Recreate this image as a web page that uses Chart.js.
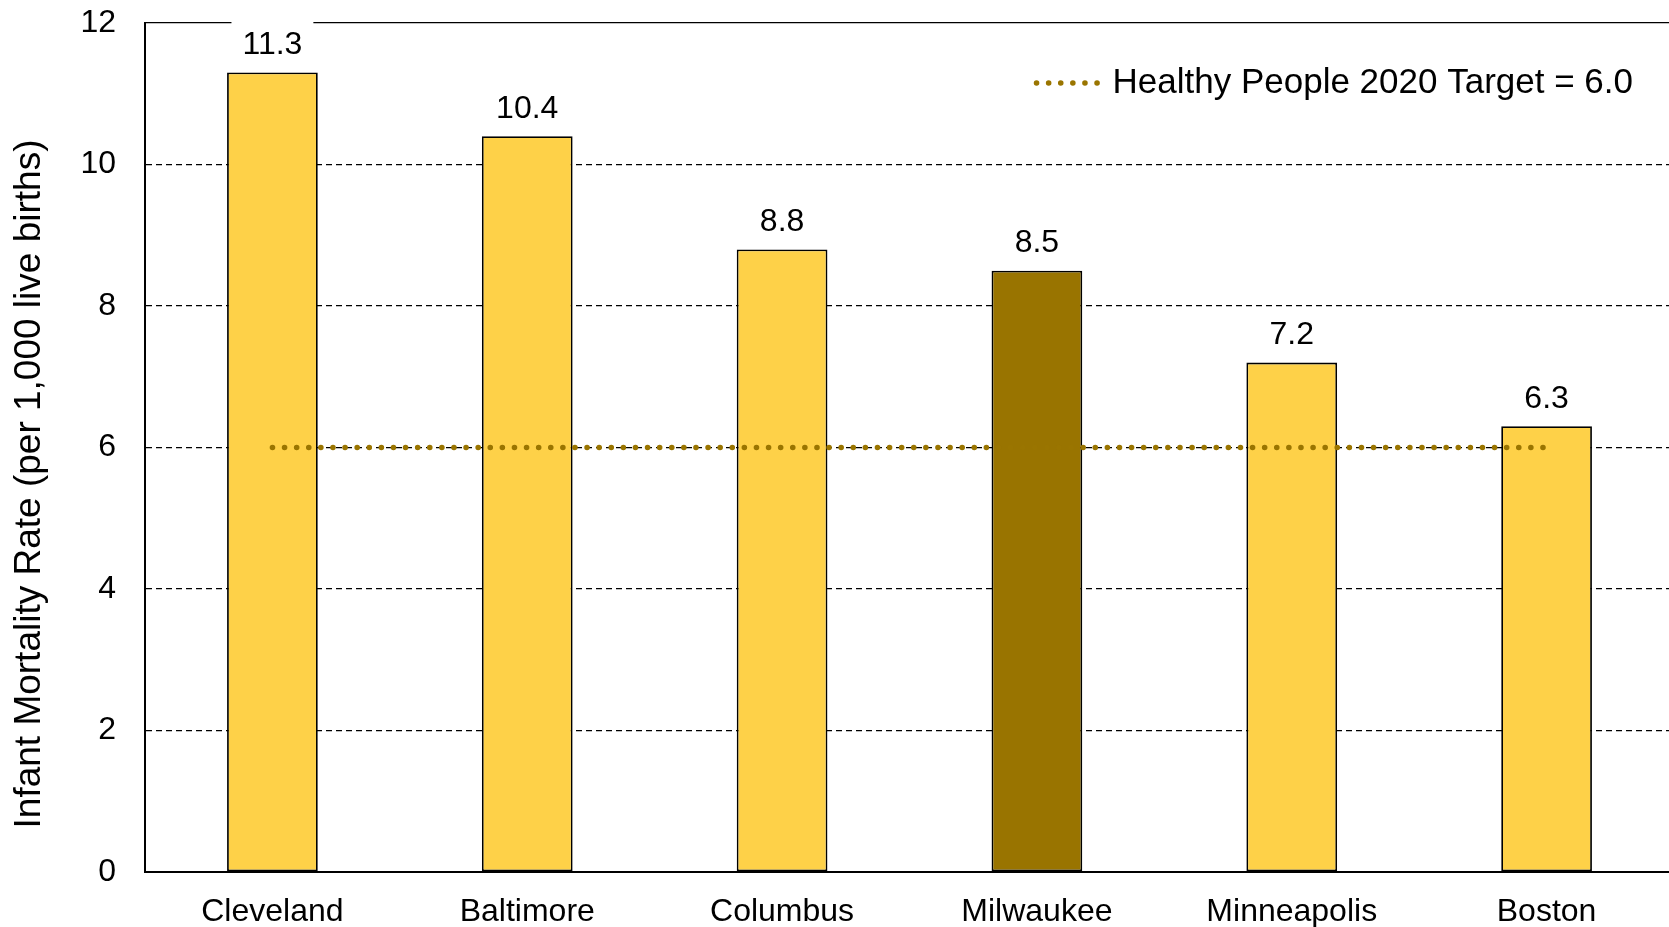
<!DOCTYPE html>
<html lang="en">
<head>
    <meta charset="UTF-8">
    <script src="https://cdn.jsdelivr.net/npm/chart.js"></script>
    <title>Infant Mortality Rate</title>
    <style>
        html, body { margin: 0; padding: 0; background: #fff; overflow: hidden; }
        #wrap { width: 1669px; height: 927px; overflow: hidden; }
    </style>
</head>
<body>
<div id="wrap">
    <!-- plot runs a few px past the right edge in the original, so the canvas is a bit wider -->
    <canvas id="imrChart" width="1674" height="927"></canvas>
</div>

<script>
    // data
    const cities = ['Cleveland', 'Baltimore', 'Columbus', 'Milwaukee', 'Minneapolis', 'Boston'];
    const rates = [11.3, 10.4, 8.8, 8.5, 7.2, 6.3];
    const target = [6.0, 6.0, 6.0, 6.0, 6.0, 6.0];
    const yTicks = [0, 2, 4, 6, 8, 10, 12];
    const targetLabel = 'Healthy People 2020 Target = 6.0';
    const yTitle = 'Infant Mortality Rate (per 1,000 live births)';

    const yellow = '#FED148';
    const brown = '#997400';
    const dotColor = '#9A7500';
    const fontFamily = "'Liberation Sans', Arial, sans-serif";

    // Milwaukee is highlighted
    const barColors = cities.map(c => c === 'Milwaukee' ? brown : yellow);

    const extras = {
        id: 'extras',
        afterDatasetsDraw(chart) {
            const ctx = chart.ctx;
            const meta = chart.getDatasetMeta(1);
            ctx.save();
            ctx.font = '32px ' + fontFamily;
            ctx.textAlign = 'center';
            ctx.textBaseline = 'middle';
            meta.data.forEach((bar, i) => {
                const txt = rates[i].toFixed(1);
                const w = ctx.measureText(txt).width + 22;
                const cy = bar.y - 27;
                // white box behind the label hides the grid line
                ctx.fillStyle = '#fff';
                ctx.fillRect(bar.x - w / 2, cy - 24, w, 44);
                ctx.fillStyle = '#000';
                ctx.fillText(txt, bar.x, cy);
            });
            ctx.restore();
        },
        afterDraw(chart) {
            const ctx = chart.ctx;
            const ds = chart.data.datasets[0];
            // legend
            ctx.save();
            ctx.font = '35px ' + fontFamily;
            ctx.textBaseline = 'middle';
            const tw = ctx.measureText(ds.label).width;
            const textLeft = 1633 - tw;
            const ly = 83;
            ctx.fillStyle = '#000';
            ctx.fillText(ds.label, textLeft, ly);
            ctx.strokeStyle = ds.borderColor;
            ctx.lineWidth = ds.borderWidth;
            ctx.lineCap = 'round';
            ctx.setLineDash(ds.borderDash);
            ctx.beginPath();
            ctx.moveTo(textLeft - 76, ly);
            ctx.lineTo(textLeft - 13, ly);
            ctx.stroke();
            ctx.restore();

            // y axis title
            ctx.save();
            ctx.font = '37px ' + fontFamily;
            ctx.fillStyle = '#000';
            ctx.textAlign = 'center';
            ctx.textBaseline = 'middle';
            ctx.translate(30, 484);
            ctx.rotate(-Math.PI / 2);
            ctx.fillText(yTitle, 0, 0);
            ctx.restore();
        }
    };

    const ctx = document.getElementById('imrChart').getContext('2d');
    new Chart(ctx, {
        data: {
            labels: cities,
            datasets: [{
                type: 'line',
                label: targetLabel,
                data: target,
                borderColor: dotColor,
                borderWidth: 5.5,
                borderDash: [0.1, 12],
                borderCapStyle: 'round',
                pointRadius: 0,
                fill: false,
                order: 0
            }, {
                type: 'bar',
                label: 'Infant Mortality Rate',
                data: rates,
                backgroundColor: barColors,
                borderColor: '#000',
                borderWidth: 1.8,
                borderSkipped: false,
                categoryPercentage: 1,
                barPercentage: 0.356,
                order: 1
            }]
        },
        options: {
            responsive: false,
            animation: false,
            devicePixelRatio: 1,
            layout: { padding: { top: 23, right: 0, left: 0, bottom: 0 } },
            plugins: {
                legend: { display: false },
                tooltip: { enabled: false }
            },
            scales: {
                x: {
                    offset: true,
                    grid: { display: false },
                    border: { display: true, color: '#000', width: 2 },
                    ticks: {
                        color: '#000',
                        padding: 13,
                        font: { family: fontFamily, size: 32 }
                    },
                    afterFit(scale) {
                        scale.height = 55;
                        scale.paddingLeft = 0;
                        scale.paddingRight = 0;
                    }
                },
                y: {
                    min: 0,
                    max: 12,
                    afterBuildTicks(scale) {
                        scale.ticks = yTicks.map(v => ({ value: v }));
                    },
                    grid: {
                        color: '#000',
                        lineWidth: 1.3,
                        drawTicks: false
                    },
                    border: {
                        display: true,
                        color: '#000',
                        width: 2,
                        dash(c) {
                            return (c.tick && c.tick.value === 12) ? [] : [6, 4];
                        }
                    },
                    ticks: {
                        color: '#000',
                        padding: 29,
                        font: { family: fontFamily, size: 32 }
                    },
                    afterFit(scale) {
                        scale.width = 145;
                        scale.paddingTop = 0;
                        scale.paddingBottom = 0;
                    }
                }
            }
        },
        plugins: [extras]
    });
</script>
</body>
</html>
